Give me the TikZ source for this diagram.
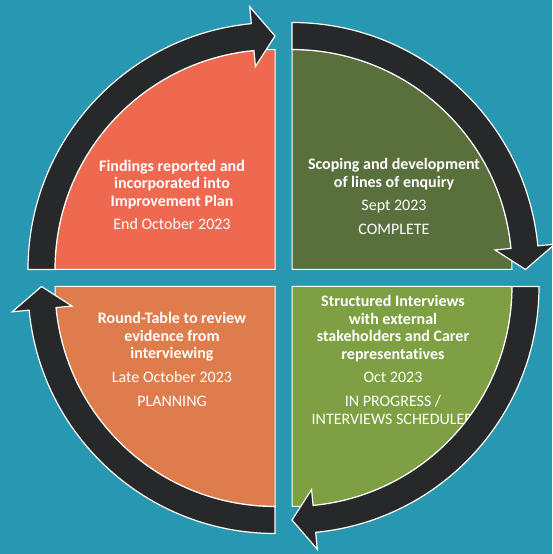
\documentclass[tikz,border=0pt]{standalone}
\usepackage{fontspec}
\setmainfont{Carlito}[Ligatures=NoCommon]
\usepackage{xcolor}
\definecolor{teal}{RGB}{40,152,178}
\definecolor{findred}{RGB}{238,105,80}
\definecolor{scopegreen}{RGB}{90,112,60}
\definecolor{intgreen}{RGB}{126,160,66}
\definecolor{roundorange}{RGB}{222,125,75}
\definecolor{band}{RGB}{38,40,42}

\begin{document}
\begin{tikzpicture}[x=1pt,y=1pt,
  quad/.style={draw=white, line width=1pt},
  arrowband/.style={fill=band, draw=white, line width=1.2pt, line join=miter},
  label/.style={text=white, align=center, font=\fontsize{16}{17.5}\selectfont}]
\fill[teal] (-283.5,-276) rectangle (268.5,278);
\useasboundingbox (-283.5,-276) rectangle (268.5,278);

% quarter fills
\begin{scope}[shift={(8.5,8.5)}]
\filldraw[quad, fill=scopegreen] (0,0) -- (0:220) arc[start angle=0, end angle=90, radius=220] -- cycle;
\end{scope}
\begin{scope}[rotate=-90, shift={(8.5,8.5)}]
\filldraw[quad, fill=intgreen] (0,0) -- (0:220) arc[start angle=0, end angle=90, radius=220] -- cycle;
\end{scope}
\begin{scope}[rotate=-180, shift={(8.5,8.5)}]
\filldraw[quad, fill=roundorange] (0,0) -- (0:220) arc[start angle=0, end angle=90, radius=220] -- cycle;
\end{scope}
\begin{scope}[rotate=-270, shift={(8.5,8.5)}]
\filldraw[quad, fill=findred] (0,0) -- (0:220) arc[start angle=0, end angle=90, radius=220] -- cycle;
\end{scope}

% texts
\node[label] (findings) at (-111.5,83) {\textbf{Findings reported and}\\ \textbf{incorporated into}\\ \textbf{Improvement Plan}\\[6pt] End October 2023};
\node[label] (scoping) at (110.5,81.5) {\textbf{Scoping and development}\\ \textbf{of lines of enquiry}\\[6pt] Sept 2023\\[6.5pt] COMPLETE};
\node[label] (interviews) at (109.5,-82) {\textbf{Structured Interviews}\\ \textbf{with external}\\ \textbf{stakeholders and Carer}\\ \textbf{representatives}\\[6pt] Oct 2023\\[6.5pt] IN PROGRESS /\\ INTERVIEWS SCHEDULED};
\node[label] (roundtable) at (-111.5,-81.5) {\textbf{Round-Table to review}\\ \textbf{evidence from}\\ \textbf{interviewing}\\[6pt] Late October 2023\\[6.5pt] PLANNING};

% clockwise arrows
\begin{scope}[shift={(8.5,8.5)}]
\draw[arrowband] (90:247) arc[start angle=90, end angle=5.5, radius=247] -- (5.5:264) -- (0:233.5) -- (5.5:204) -- (5.5:220) arc[start angle=5.5, end angle=90, radius=220] -- cycle;
\end{scope}
\begin{scope}[rotate=-90, shift={(8.5,8.5)}]
\draw[arrowband] (90:247) arc[start angle=90, end angle=5.5, radius=247] -- (5.5:264) -- (0:233.5) -- (5.5:204) -- (5.5:220) arc[start angle=5.5, end angle=90, radius=220] -- cycle;
\end{scope}
\begin{scope}[rotate=-180, shift={(8.5,8.5)}]
\draw[arrowband] (90:247) arc[start angle=90, end angle=5.5, radius=247] -- (5.5:264) -- (0:233.5) -- (5.5:204) -- (5.5:220) arc[start angle=5.5, end angle=90, radius=220] -- cycle;
\end{scope}
\begin{scope}[rotate=-270, shift={(8.5,8.5)}]
\draw[arrowband] (90:247) arc[start angle=90, end angle=5.5, radius=247] -- (5.5:264) -- (0:233.5) -- (5.5:204) -- (5.5:220) arc[start angle=5.5, end angle=90, radius=220] -- cycle;
\end{scope}
\end{tikzpicture}
\end{document}
